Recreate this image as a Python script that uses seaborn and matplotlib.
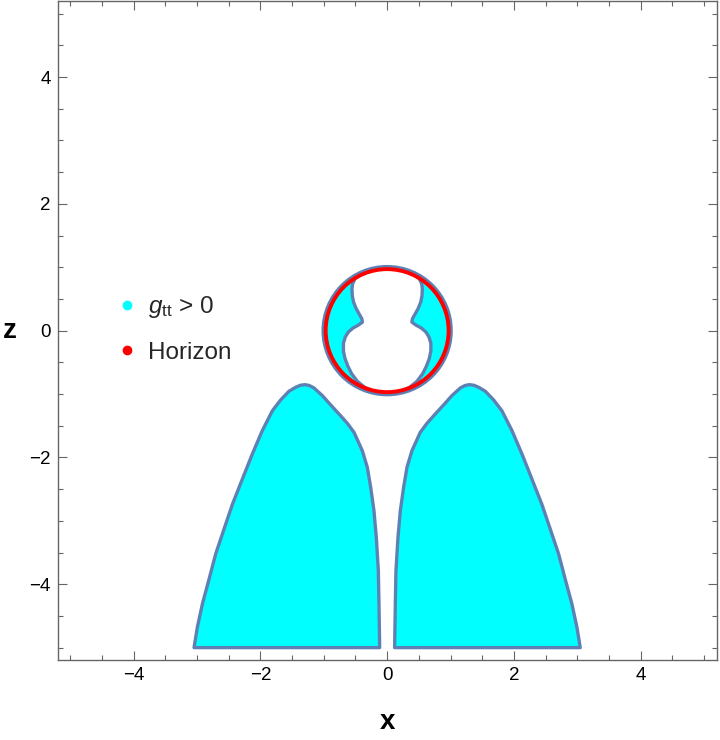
import matplotlib
matplotlib.use("Agg")
import matplotlib.pyplot as plt
from matplotlib.patches import Circle, Polygon
from matplotlib.lines import Line2D
from matplotlib.ticker import MultipleLocator
import seaborn as sns

# ergoregion ring: outer circle, peanut-shaped hole (left half, top -> bottom)
outer_r = 1.01
horizon_r = 0.97
peanut_x = [0.0, -0.25, -0.43, -0.51, -0.545, -0.555, -0.55, -0.53, -0.49, -0.44, -0.4,
            -0.39, -0.45, -0.54, -0.61, -0.66, -0.69, -0.69, -0.665, -0.62, -0.56,
            -0.47, -0.36, -0.22, 0.0]
peanut_z = [0.99, 0.97, 0.89, 0.815, 0.74, 0.66, 0.55, 0.45, 0.35, 0.26, 0.19,
            0.135, 0.09, 0.04, -0.02, -0.1, -0.2, -0.32, -0.44, -0.56, -0.68,
            -0.8, -0.89, -0.96, -0.99]

# lower lobe (x > 0 side): inner edge bottom -> peak, outer edge peak -> bottom
lobe_x = [0.118, 0.129, 0.139, 0.171, 0.208, 0.26, 0.313, 0.392, 0.523, 0.628,
          0.76, 0.891, 1.022, 1.155, 1.23, 1.297,
          1.37, 1.443, 1.549, 1.68, 1.81, 1.97, 2.127, 2.284, 2.44, 2.574,
          2.705, 2.81, 2.915, 2.995, 3.047]
lobe_z = [-5.0, -4.31, -3.785, -3.26, -2.84, -2.47, -2.156, -1.893, -1.604, -1.462,
          -1.314, -1.172, -1.025, -0.904, -0.865, -0.852,
          -0.862, -0.893, -0.956, -1.093, -1.262, -1.577, -1.945, -2.34, -2.735, -3.13,
          -3.52, -3.92, -4.31, -4.68, -5.0]

ticks = [-4, -2, 0, 2, 4]
legend_labels = [r"$g_{\rm tt}$ > 0", "Horizon"]
legend_colors = ["#00ffff", "#ff0000"]

fill_c = "#00ffff"
edge_c = "#5e81b5"
frame_c = "#666666"

sns.set_theme(style="ticks")
plt.rcParams["font.family"] = ["Liberation Sans", "DejaVu Sans"]
plt.rcParams["mathtext.fontset"] = "custom"
plt.rcParams["mathtext.rm"] = "Liberation Sans"
plt.rcParams["mathtext.it"] = "Liberation Sans:italic"

fig = plt.figure(figsize=(7.2, 7.4), dpi=100)
ax = fig.add_axes([0.08, 0.1077, 0.9154, 0.891])

lw = 2.4

# lower lobes (mirror pair)
for sgn in (-1, 1):
    pts = [(sgn * x, z) for x, z in zip(lobe_x, lobe_z)]
    ax.add_patch(Polygon(pts, closed=True, facecolor=fill_c, edgecolor=edge_c,
                         linewidth=lw, joinstyle="round", zorder=2))

# ring with peanut hole
ax.add_patch(Circle((0, 0), outer_r, facecolor=fill_c, edgecolor=edge_c,
                    linewidth=lw, zorder=2))
left = list(zip(peanut_x, peanut_z))
right = [(-x, z) for x, z in reversed(left)]
ax.add_patch(Polygon(left + right, closed=True, facecolor="white", edgecolor=edge_c,
                     linewidth=lw, joinstyle="round", zorder=3))
ax.add_patch(Circle((0, 0), horizon_r, facecolor="none", edgecolor="#ff0000",
                    linewidth=2.8, zorder=4))

ax.set_xlim(-5.2, 5.2)
ax.set_ylim(-5.2, 5.2)
ax.set_xticks(ticks)
ax.set_yticks(ticks)
ax.set_xticklabels([str(t).replace("-", "\u2212") for t in ticks])
ax.set_yticklabels([str(t).replace("-", "\u2212") for t in ticks])
ax.xaxis.set_minor_locator(MultipleLocator(0.5))
ax.yaxis.set_minor_locator(MultipleLocator(0.5))
ax.tick_params(which="both", direction="in", top=True, right=True,
               color=frame_c, width=0.8, labelsize=13.5, labelcolor="black")
ax.tick_params(which="major", length=6.5, pad=5)
ax.tick_params(which="minor", length=3.6)
for sp in ax.spines.values():
    sp.set_color(frame_c)
    sp.set_linewidth(1.0)
ax.grid(False)

ax.set_xlabel("x", fontsize=20, fontweight="bold", labelpad=18, color="black")
ax.set_ylabel("z", fontsize=20, fontweight="bold", rotation=0, labelpad=14,
              va="center", color="black")

handles = [Line2D([], [], linestyle="none", marker="o", markersize=6,
                  markerfacecolor=c, markeredgecolor=c) for c in legend_colors]
ax.legend(handles, legend_labels, loc="center left", bbox_to_anchor=(0.058, 0.5025),
          frameon=False, fontsize=17.5, handlelength=0.8, handletextpad=0.45,
          labelspacing=0.9, borderpad=0.4)

fig.savefig("out.png", dpi=100)
